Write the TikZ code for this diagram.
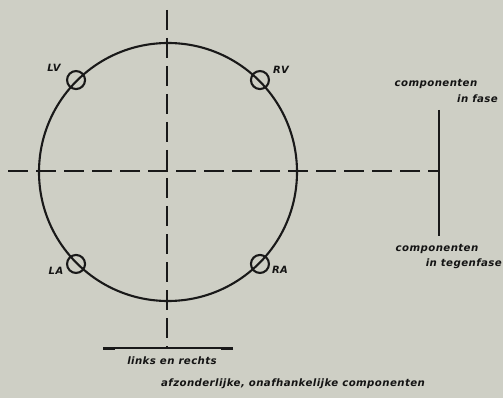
\documentclass[tikz,border=0pt]{standalone}
\usepackage{fontspec}
\setmainfont{DejaVu Sans}
\newfontfamily\lab[LetterSpace=4]{DejaVu Sans Bold Oblique}
\begin{document}
\begin{tikzpicture}[x=1pt,y=-1pt,
  ink/.style={draw=black!90, line width=2.1pt},
  dashline/.style={draw=black!90, line width=2pt, dash pattern=on 20pt off 8pt},
  electrode/.style={circle, draw=black!90, line width=2.1pt, minimum size=18pt, inner sep=0pt},
  lbl/.style={font=\lab\fontsize{10}{11}\selectfont, text=black!92, inner sep=0pt},
  txt/.style={font=\lab\fontsize{10.2}{11}\selectfont, text=black!92, inner sep=0pt}]
\fill[fill={rgb,255:red,206;green,207;blue,197}] (0,0) rectangle (503,398);
\useasboundingbox (0,0) rectangle (503,398);
% main circle
\node[circle, ink, minimum size=258pt, inner sep=0pt] (main) at (168,172) {};
% electrodes
\node[electrode] (lv) at (main.135) {};
\node[electrode] (rv) at (main.45) {};
\node[electrode] (la) at (main.225) {};
\node[electrode] (ra) at (main.315) {};
\node[lbl] (tlv) at (54,68) {LV};
\node[lbl] (trv) at (281,70) {RV};
\node[lbl] (tla) at (56,271) {LA};
\node[lbl] (tra) at (280,270) {RA};
% axes
\coordinate (vtop) at (167,10);
\coordinate (barl) at (103,348);
\coordinate (barr) at (233,348);
\coordinate (barm) at (167,348);
\coordinate (hleft) at (8,171);
\coordinate (rtop) at (439,110);
\coordinate (rbot) at (439,236);
\coordinate (rmid) at (439,171);
\draw[dashline] (vtop) -- (barm);
\draw[dashline] (hleft) -- (rmid);
\draw[ink, line width=2.6pt] (rtop) -- (rbot);
\draw[ink] (barl) -- (barr);
\draw[black!90, line width=3pt] (barl) -- ++(12,0);
\draw[black!90, line width=3pt] (barr) -- ++(-12,0);
% texts
\node[txt] (c1) at (436,84) {componenten};
\node[txt, anchor=east] (c1b) at (498,99) {in fase};
\node[txt] (c2) at (437,249) {componenten};
\node[txt, anchor=east] (c2b) at (502,264) {in tegenfase};
\node[txt] (lr) at (172,361) {links en rechts};
\node[txt] (az) at (293,384) {afzonderlijke, onafhankelijke componenten};
\end{tikzpicture}
\end{document}
